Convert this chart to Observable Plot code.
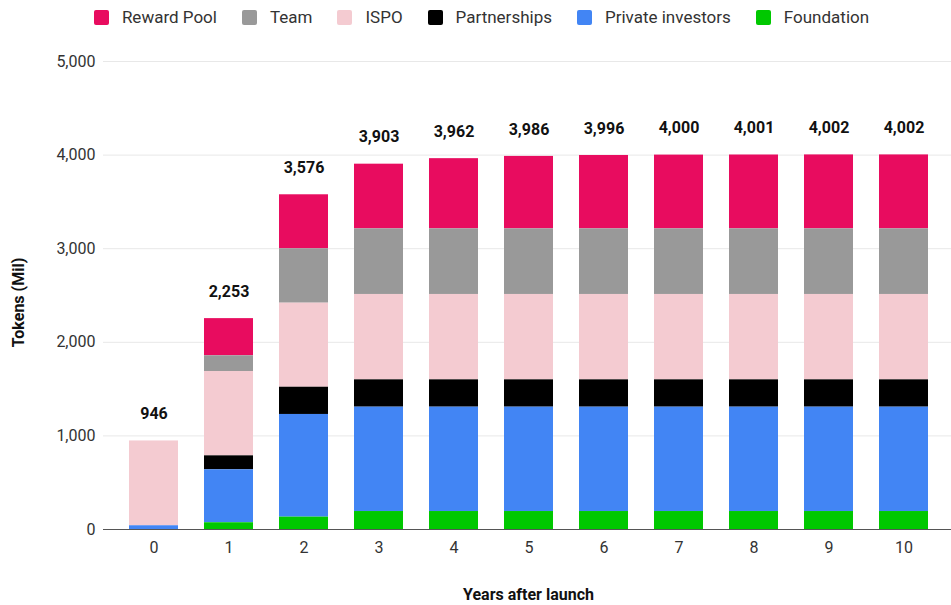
<!DOCTYPE html>
<html><head><meta charset="utf-8">
<script src="https://cdn.jsdelivr.net/npm/d3@7"></script>
<script src="https://cdn.jsdelivr.net/npm/@observablehq/plot@0.6"></script>
<style>
body{margin:0;background:#fff;font-family:Roboto,sans-serif;}
#legend{height:34px;display:flex;align-items:center;justify-content:center;gap:25px;font-size:17px;color:#333;padding-left:12px;box-sizing:border-box;}
#legend .it{display:flex;align-items:center;gap:13px;}
#legend .sw{width:15px;height:15px;border-radius:2px;}
</style></head><body>
<div id="legend"></div>
<div id="chart"></div>
<script>
const years = [0,1,2,3,4,5,6,7,8,9,10];
const seriesNames = ["Reward Pool","Team","ISPO","Partnerships","Private investors","Foundation"];
const seriesColors = ["#e80c5f","#999999","#f4cbd1","#000000","#4285f4","#00c800"];
const rewardPool   = [0,397,577,691,750,774,784,788,789,790,790];
const team         = [0,168,581,701,701,701,701,701,701,701,701];
const ispo         = [906,901,898,912,912,912,912,912,912,912,912];
const partnerships = [0,149,291,292,292,292,292,292,292,292,292];
const privateInv   = [40,566,1097,1115,1115,1115,1115,1115,1115,1115,1115];
const foundation   = [0,72,132,192,192,192,192,192,192,192,192];
const totals       = [946,2253,3576,3903,3962,3986,3996,4000,4001,4002,4002];
const yTicks = [0,1000,2000,3000,4000,5000];

const seriesValues = [rewardPool,team,ispo,partnerships,privateInv,foundation];
const data = [];
seriesNames.forEach((s,i)=>years.forEach((yr,j)=>data.push({year:yr,series:s,value:seriesValues[i][j]})));
const totalData = years.map((yr,j)=>({year:yr,total:totals[j]}));

const leg = document.getElementById("legend");
seriesNames.forEach((s,i)=>{
  const d=document.createElement("div");d.className="it";
  d.innerHTML=`<span class="sw" style="background:${seriesColors[i]}"></span><span>${s}</span>`;
  leg.appendChild(d);
});

const fmt = d3.format(",");
const chart = Plot.plot({
  width:951, height:571,
  marginTop:27, marginBottom:76, marginLeft:115, marginRight:10,
  style:{fontFamily:"Roboto, sans-serif", fontSize:"16px", color:"#333", background:"#fff"},
  x:{type:"band", domain:years, paddingInner:0.35, paddingOuter:0.175, label:null},
  y:{domain:[0,5000], ticks:yTicks, label:null, tickFormat:fmt},
  color:{domain:seriesNames, range:seriesColors},
  marks:[
    Plot.ruleY(yTicks.slice(1),{stroke:"#e8e8e8", strokeWidth:1, insetLeft:-12, insetRight:-10}),
    Plot.barY(data, Plot.stackY({x:"year", y:"value", fill:"series", order:[...seriesNames].reverse()})),
    Plot.ruleY([0],{stroke:"#555", strokeWidth:1.2, insetLeft:-12, insetRight:-10}),
    Plot.text(totalData,{x:"year", y:"total", text:d=>fmt(d.total), dy:-27, fontWeight:"bold", fontSize:16, fill:"#111"}),
    Plot.axisY({ticks:yTicks, tickFormat:fmt, tickSize:0, tickPadding:20, label:null, fontSize:16}),
    Plot.axisX({tickSize:0, tickPadding:12, label:null, fontSize:16}),
    Plot.text(["Years after launch"],{frameAnchor:"bottom", dy:70, fontWeight:"bold", fontSize:16, fill:"#111"}),
    Plot.text(["Tokens (Mil)"],{frameAnchor:"left", textAnchor:"middle", dx:-97, dy:7, rotate:-90, fontWeight:"bold", fontSize:16, fill:"#111"})
  ]
});
document.getElementById("chart").appendChild(chart);
</script>
</body></html>
